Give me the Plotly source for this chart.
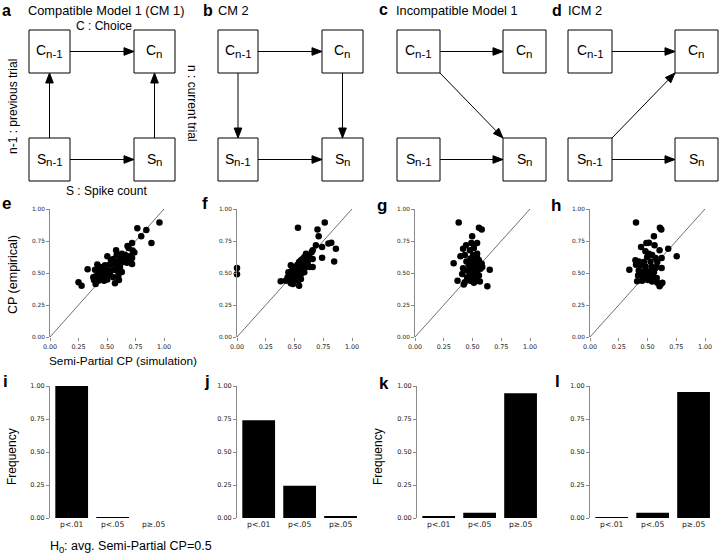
import math
import plotly.graph_objects as go

W, H = 720, 556

# ---------------- data ----------------
e_x = [0.96, 0.766, 0.845, 0.80, 0.89, 0.72, 0.68, 0.69, 0.725, 0.58, 0.63, 0.66, 0.705, 0.72, 0.503,
       0.66, 0.675, 0.72, 0.614, 0.556, 0.565, 0.54, 0.52, 0.582, 0.60, 0.614, 0.63, 0.415, 0.44, 0.468,
       0.33, 0.395, 0.453, 0.51, 0.556, 0.424, 0.38, 0.40, 0.46, 0.51, 0.556, 0.386, 0.424, 0.474, 0.503,
       0.40, 0.57, 0.605, 0.25, 0.277, 0.497, 0.526, 0.585, 0.643, 0.69, 0.74, 0.585, 0.535, 0.482, 0.447,
       0.41, 0.44, 0.614, 0.60]
e_y = [0.895, 0.85, 0.835, 0.787, 0.735, 0.735, 0.71, 0.695, 0.675, 0.677, 0.65, 0.64, 0.633, 0.617, 0.63,
       0.61, 0.58, 0.57, 0.60, 0.61, 0.59, 0.572, 0.564, 0.564, 0.572, 0.546, 0.507, 0.567, 0.546, 0.533,
       0.53, 0.525, 0.514, 0.52, 0.525, 0.493, 0.467, 0.475, 0.48, 0.48, 0.467, 0.446, 0.44, 0.44, 0.449,
       0.415, 0.42, 0.446, 0.428, 0.40, 0.493, 0.493, 0.52, 0.585, 0.61, 0.66, 0.64, 0.60, 0.56, 0.506,
       0.46, 0.467, 0.61, 0.48]

f_x = [0.0, 0.0, 0.53, 0.763, 0.70, 0.71, 0.686, 0.74, 0.795, 0.82, 0.86, 0.845, 0.74, 0.658, 0.65,
       0.63, 0.60, 0.585, 0.57, 0.556, 0.614, 0.658, 0.54, 0.526, 0.57, 0.60, 0.63, 0.658, 0.468, 0.512,
       0.54, 0.57, 0.477, 0.447, 0.497, 0.526, 0.556, 0.453, 0.482, 0.526, 0.38, 0.424, 0.453, 0.49,
       0.532, 0.487, 0.54, 0.512, 0.468, 0.556, 0.585, 0.614, 0.497, 0.54, 0.585, 0.506, 0.44]
f_y = [0.54, 0.49, 0.853, 0.895, 0.84, 0.787, 0.716, 0.703, 0.73, 0.737, 0.69, 0.59, 0.62, 0.677, 0.664,
       0.625, 0.65, 0.625, 0.61, 0.60, 0.59, 0.61, 0.585, 0.564, 0.564, 0.546, 0.546, 0.546, 0.56, 0.538,
       0.533, 0.52, 0.52, 0.506, 0.506, 0.493, 0.493, 0.48, 0.472, 0.467, 0.436, 0.44, 0.449, 0.433,
       0.44, 0.415, 0.40, 0.454, 0.42, 0.454, 0.506, 0.57, 0.546, 0.554, 0.585, 0.475, 0.467]

g_x = [0.38, 0.556, 0.58, 0.497, 0.49, 0.54, 0.444, 0.418, 0.477, 0.512, 0.433, 0.395, 0.506, 0.54,
       0.447, 0.336, 0.482, 0.512, 0.556, 0.468, 0.512, 0.54, 0.58, 0.418, 0.477, 0.526, 0.57, 0.65,
       0.497, 0.54, 0.41, 0.49, 0.526, 0.453, 0.497, 0.54, 0.37, 0.433, 0.424, 0.512, 0.564, 0.629,
       0.482, 0.518, 0.556, 0.477, 0.503, 0.54, 0.585, 0.453]
g_y = [0.895, 0.853, 0.84, 0.787, 0.735, 0.735, 0.716, 0.69, 0.677, 0.695, 0.64, 0.63, 0.64, 0.65,
       0.59, 0.577, 0.614, 0.60, 0.60, 0.564, 0.56, 0.564, 0.572, 0.538, 0.533, 0.533, 0.533, 0.525,
       0.512, 0.506, 0.493, 0.48, 0.475, 0.467, 0.449, 0.44, 0.44, 0.428, 0.41, 0.423, 0.433, 0.396,
       0.44, 0.493, 0.48, 0.493, 0.59, 0.62, 0.546, 0.52]

h_x = [0.40, 0.608, 0.62, 0.556, 0.49, 0.512, 0.444, 0.561, 0.605, 0.68, 0.754, 0.482, 0.512, 0.54,
       0.497, 0.57, 0.623, 0.395, 0.424, 0.468, 0.526, 0.585, 0.40, 0.44, 0.482, 0.535, 0.58, 0.623,
       0.342, 0.424, 0.468, 0.512, 0.556, 0.418, 0.46, 0.497, 0.54, 0.58, 0.41, 0.453, 0.503, 0.54,
       0.585, 0.614, 0.605, 0.629, 0.52, 0.477, 0.564, 0.44]
h_y = [0.895, 0.853, 0.84, 0.787, 0.735, 0.737, 0.703, 0.716, 0.677, 0.69, 0.63, 0.67, 0.65, 0.64,
       0.625, 0.617, 0.617, 0.60, 0.59, 0.585, 0.59, 0.585, 0.564, 0.56, 0.55, 0.55, 0.546, 0.54,
       0.525, 0.52, 0.514, 0.512, 0.506, 0.48, 0.48, 0.475, 0.467, 0.46, 0.436, 0.44, 0.446, 0.433,
       0.423, 0.41, 0.396, 0.423, 0.493, 0.467, 0.533, 0.493]

bar_categories = ["p<.01", "p<.05", "p\u2265.05"]
i_freq = [1.0, 0.003, 0.0]
j_freq = [0.74, 0.245, 0.015]
k_freq = [0.013, 0.04, 0.945]
l_freq = [0.005, 0.04, 0.955]

axis_ticks = [0, 0.25, 0.5, 0.75, 1.0]
axis_ticktext = ["0.00", "0.25", "0.50", "0.75", "1.00"]

# ---------------- helpers ----------------
def px(x):
    return x / W

def py(y):
    return 1 - y / H

def dx(a, b):
    return [a / W, b / W]

def dy(top, bottom):
    return [1 - bottom / H, 1 - top / H]

SANS = "Liberation Sans, Arial, sans-serif"
SPINE = "#8a8a8a"
SC_XTICK = dict(family="DejaVu Sans", size=6.4, color="#222")
SC_YTICK = dict(family="DejaVu Sans", size=5.8, color="#222")
BAR_XTICK = dict(family="DejaVu Sans", size=7.6, color="#222")
BAR_YTICK = dict(family="DejaVu Sans", size=6.5, color="#222")

fig = go.Figure()
layout = dict(width=W, height=H, autosize=False,
              margin=dict(l=0, r=0, t=0, b=0, pad=0, autoexpand=False),
              paper_bgcolor="white", plot_bgcolor="white", showlegend=False)

scatter_panels = [
    (e_x, e_y, (50, 164)),
    (f_x, f_y, (237, 352)),
    (g_x, g_y, (415, 530)),
    (h_x, h_y, (590, 705)),
]
bar_panels = [
    (i_freq, (50, 172)),
    (j_freq, (237, 359)),
    (k_freq, (417, 539)),
    (l_freq, (590, 712)),
]

idx = 1
for xs, ys, (x0, x1) in scatter_panels:
    xa = "x" if idx == 1 else f"x{idx}"
    ya = "y" if idx == 1 else f"y{idx}"
    fig.add_trace(go.Scatter(x=[0, 1], y=[0, 1], mode="lines",
                             line=dict(color="#707070", width=1), xaxis=xa, yaxis=ya,
                             hoverinfo="skip"))
    fig.add_trace(go.Scatter(x=xs, y=ys, mode="markers", cliponaxis=False,
                             marker=dict(color="black", size=6.5), xaxis=xa, yaxis=ya))
    key = "" if idx == 1 else str(idx)
    layout["xaxis" + key] = dict(domain=dx(x0, x1), range=[0, 1], anchor=ya, automargin=False,
                                 tickvals=axis_ticks, ticktext=axis_ticktext,
                                 ticks="outside", ticklen=3, tickcolor=SPINE,
                                 showline=False, showgrid=False, zeroline=False,
                                 tickfont=SC_XTICK)
    layout["yaxis" + key] = dict(domain=dy(209, 337), range=[0, 1], anchor=xa, automargin=False,
                                 tickvals=axis_ticks, ticktext=axis_ticktext,
                                 ticks="outside", ticklen=3, tickcolor=SPINE,
                                 showline=True, linecolor=SPINE, linewidth=1,
                                 showgrid=False, zeroline=False, tickfont=SC_YTICK)
    idx += 1

for vals, (x0, x1) in bar_panels:
    xa = f"x{idx}"
    ya = f"y{idx}"
    fig.add_trace(go.Bar(x=bar_categories, y=vals, width=0.8,
                         marker=dict(color="black", line=dict(width=0)),
                         xaxis=xa, yaxis=ya))
    key = str(idx)
    layout["xaxis" + key] = dict(domain=dx(x0, x1), range=[-0.53, 2.45], anchor=ya, automargin=False,
                                 type="category", ticks="", showline=False,
                                 showgrid=False, zeroline=False, tickfont=BAR_XTICK)
    layout["yaxis" + key] = dict(domain=dy(386, 518), range=[0, 1], anchor=xa, automargin=False,
                                 tickvals=axis_ticks, ticktext=axis_ticktext,
                                 ticks="outside", ticklen=3, tickcolor=SPINE,
                                 showline=True, linecolor=SPINE, linewidth=1,
                                 showgrid=False, zeroline=False, tickfont=BAR_YTICK)
    idx += 1

# ---------------- diagrams (row 1) ----------------
shapes = []
annotations = []

TOP = (30, 73)
BOT = (138, 181)

def text(x, y, s, size=12, anchor="left", bold=False, angle=0, family=SANS):
    if bold:
        s = "<b>" + s + "</b>"
    annotations.append(dict(x=px(x), y=py(y), xref="paper", yref="paper", text=s,
                            showarrow=False, xanchor=anchor, yanchor="middle",
                            textangle=angle, borderpad=0, borderwidth=0,
                            font=dict(family=family, size=size, color="black")))

MAIN_SIZE, SUB_SIZE = 14, 11.5
MAIN_W = {"C": 0.722, "S": 0.667}
SUB_W = {"n-1": 1.445, "n": 0.556}

def box(x0, x1, yy, letter, sub):
    shapes.append(dict(type="rect", xref="paper", yref="paper",
                       x0=px(x0), x1=px(x1), y0=py(yy[1]), y1=py(yy[0]),
                       line=dict(color="black", width=1), fillcolor="white"))
    cx = (x0 + x1) / 2
    cy = (yy[0] + yy[1]) / 2
    wm = MAIN_W[letter] * MAIN_SIZE
    ws = SUB_W[sub] * SUB_SIZE
    split = cx - (wm + ws) / 2 + wm
    text(split, cy - 1, letter, MAIN_SIZE, anchor="right")
    text(split, cy + 2.5, sub, SUB_SIZE, anchor="left")

HEAD_L, HEAD_W = 10.0, 3.8

def arrow(tx, ty, hx, hy):
    L = math.hypot(hx - tx, hy - ty)
    ux, uy = (hx - tx) / L, (hy - ty) / L
    bx, by = hx - ux * HEAD_L, hy - uy * HEAD_L
    shapes.append(dict(type="line", xref="paper", yref="paper",
                       x0=px(tx), y0=py(ty), x1=px(bx), y1=py(by),
                       line=dict(color="black", width=1)))
    nx, ny = -uy, ux
    p1 = (bx + nx * HEAD_W, by + ny * HEAD_W)
    p2 = (bx - nx * HEAD_W, by - ny * HEAD_W)
    path = "M {:.5f},{:.5f} L {:.5f},{:.5f} L {:.5f},{:.5f} Z".format(
        px(hx), py(hy), px(p1[0]), py(p1[1]), px(p2[0]), py(p2[1]))
    shapes.append(dict(type="path", xref="paper", yref="paper", path=path,
                       fillcolor="black", line=dict(color="black", width=1)))

diagrams = [
    (29, 70, 134, 175, "a"),
    (218, 258, 322, 363, "b"),
    (397, 440, 503, 546, "c"),
    (568, 612, 675, 718, "d"),
]
for lx0, lx1, rx0, rx1, kind in diagrams:
    box(lx0, lx1, TOP, "C", "n-1")
    box(rx0, rx1, TOP, "C", "n")
    box(lx0, lx1, BOT, "S", "n-1")
    box(rx0, rx1, BOT, "S", "n")
    ymid_t = (TOP[0] + TOP[1]) / 2
    ymid_b = (BOT[0] + BOT[1]) / 2
    arrow(lx1, ymid_t, rx0, ymid_t)
    arrow(lx1, ymid_b, rx0, ymid_b)
    lc = (lx0 + lx1) / 2
    rc = (rx0 + rx1) / 2
    if kind == "a":
        arrow(lc, BOT[0], lc, TOP[1])
        arrow(rc, BOT[0], rc, TOP[1])
    elif kind == "b":
        arrow(lc, TOP[1], lc, BOT[0])
        arrow(rc, TOP[1], rc, BOT[0])
    elif kind == "c":
        arrow(lx1, TOP[1], rx0, BOT[0])
    else:
        arrow(lx1, BOT[0], rx0, TOP[1])

# panel letters & titles
text(2, 10, "a", 16, bold=True)
text(28, 10, "Compatible Model 1 (CM 1)", 12.8)
text(203, 10, "b", 16, bold=True)
text(218, 10, "CM 2", 12.8)
text(379, 9, "c", 16, bold=True)
text(396, 10, "Incompatible Model 1", 12.8)
text(552, 11, "d", 16, bold=True)
text(568, 10, "ICM 2", 12.8)

text(104, 26, "C : Choice", 12, anchor="center")
text(106, 191, "S : Spike count", 12, anchor="center")
text(13, 107, "n-1 : previous trial", 12, anchor="center", angle=-90)
text(192, 103, "n : current trial", 12, anchor="center", angle=90)

text(2, 204, "e", 17, bold=True)
text(202, 204, "f", 17, bold=True)
text(377, 206, "g", 17, bold=True)
text(551, 206, "h", 17, bold=True)

text(13, 275, "CP (empirical)", 12.5, anchor="center", angle=-90)
text(123, 361, "Semi-Partial CP (simulation)", 11.8, anchor="center")

text(3, 381, "i", 17, bold=True)
text(204, 381, "j", 17, bold=True)
text(379, 383, "k", 17, bold=True)
text(555, 381, "l", 17, bold=True)

text(12, 457, "Frequency", 12, anchor="center", angle=-90)
text(378, 457, "Frequency", 12, anchor="center", angle=-90)

# H0 label: "H", subscript "0", rest
h_x0 = 50
text(h_x0, 546, "H", 12.5, anchor="left")
text(h_x0 + 0.722 * 12.5, 549.5, "0", 9.5, anchor="left")
text(h_x0 + 0.722 * 12.5 + 0.556 * 9.5, 546, ": avg. Semi-Partial CP=0.5", 12.5, anchor="left")

layout["shapes"] = shapes
layout["annotations"] = annotations
fig.update_layout(**layout)
fig.write_html("out.html", config={"displayModeBar": False},
               post_script="document.body.style.margin='0px';document.body.style.overflow='hidden';")
